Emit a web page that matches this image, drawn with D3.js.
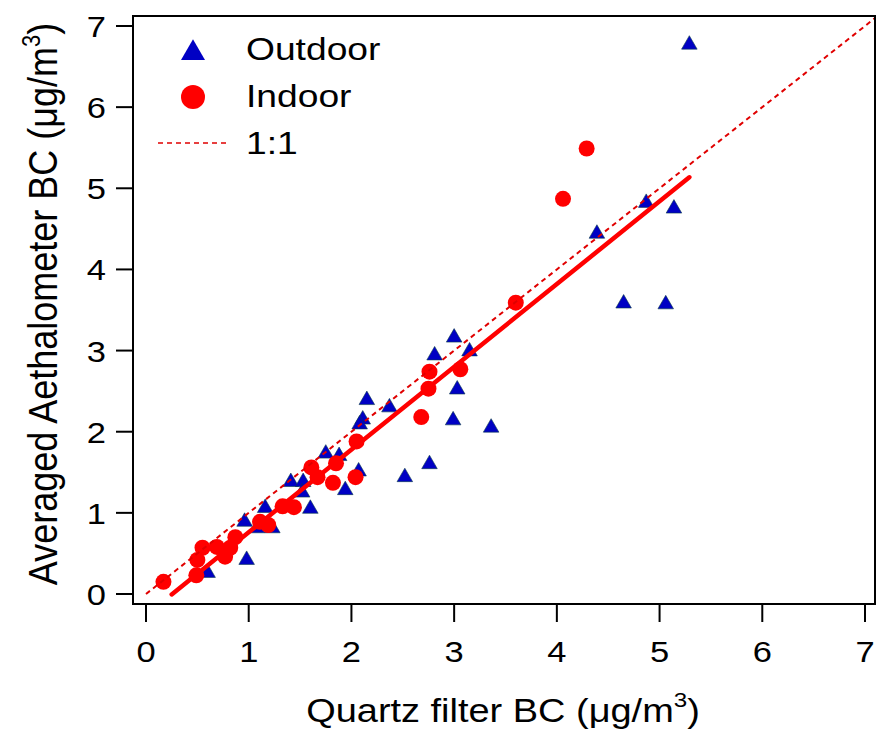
<!DOCTYPE html>
<html>
<head>
<meta charset="utf-8">
<script src="https://cdn.jsdelivr.net/npm/d3@7"></script>
<style>
  body { margin: 0; background: #fff; }
  text { font-family: "Liberation Sans", Arial, sans-serif; fill: #000; }
</style>
</head>
<body>
<div id="chartId"></div>
<script>
// Outdoor (triangles) and indoor (circles)
const outdoorX = [5.29, 4.39, 4.87, 5.14, 4.65, 5.06, 3.00, 2.81, 3.15, 3.03, 2.99, 3.36,
                  2.76, 2.52, 2.37, 2.15, 2.11, 2.08, 2.07, 1.94, 1.75, 1.88, 1.41, 1.53,
                  1.52, 1.60, 1.16, 0.96, 1.08, 1.23, 0.98, 0.60];
const outdoorY = [6.77, 4.44, 4.82, 4.75, 3.58, 3.57, 3.16, 2.94, 2.99, 2.52, 2.14, 2.05,
                  1.60, 1.44, 2.30, 2.39, 2.15, 2.09, 1.51, 1.28, 1.73, 1.70, 1.38, 1.38,
                  1.25, 1.05, 1.06, 0.89, 0.81, 0.81, 0.42, 0.26];
const indoorX = [0.17, 0.49, 0.50, 0.55, 0.69, 0.77, 0.87, 0.82, 1.11, 1.19, 1.33, 1.44,
                 1.61, 1.67, 1.85, 1.82, 2.04, 2.05, 2.68, 2.75, 2.76, 3.06, 3.60, 4.06, 4.29];
const indoorY = [0.15, 0.23, 0.42, 0.57, 0.58, 0.46, 0.70, 0.57, 0.89, 0.85, 1.08, 1.07,
                 1.56, 1.44, 1.61, 1.37, 1.44, 1.88, 2.18, 2.53, 2.74, 2.77, 3.59, 4.87, 5.49];

// fitted line
const fitSlope = 1.02;
const fitIntercept = -0.26;
const fitXRange = [0.25, 5.29];

const xTicks = [0, 1, 2, 3, 4, 5, 6, 7];
const yTicks = [0, 1, 2, 3, 4, 5, 6, 7];
const legendLabels = ["Outdoor", "Indoor", "1:1"];

const W = 876, H = 740;
const frame = { left: 133, right: 875, top: 16, bottom: 604 };
const stretch = 1.15; // text in the picture is a bit wide

const svg = d3.select("div#chartId").append("svg")
  .attr("width", W).attr("height", H);

const x = d3.scaleLinear().domain([0, 7]).range([146, 865]);
const y = d3.scaleLinear().domain([0, 7]).range([594, 26]);

svg.append("clipPath").attr("id", "plotClip")
  .append("rect")
  .attr("x", frame.left).attr("y", frame.top)
  .attr("width", frame.right - frame.left).attr("height", frame.bottom - frame.top);

const plot = svg.append("g").attr("clip-path", "url(#plotClip)");

// points
const tri = d3.symbol().type(d3.symbolTriangle).size(105);
plot.selectAll("path.out")
  .data(outdoorX.map((v, i) => [v, outdoorY[i]]))
  .join("path")
  .attr("class", "out")
  .attr("d", tri)
  .attr("transform", d => `translate(${x(d[0])},${y(d[1])})`)
  .style("fill", "#0000c4")
  .style("stroke", "#0a3a4a")
  .style("stroke-width", 0.6);

plot.selectAll("circle.in")
  .data(indoorX.map((v, i) => [v, indoorY[i]]))
  .join("circle")
  .attr("class", "in")
  .attr("cx", d => x(d[0]))
  .attr("cy", d => y(d[1]))
  .attr("r", 8)
  .style("fill", "#ff0000");

// fit line
plot.append("line")
  .attr("x1", x(fitXRange[0])).attr("y1", y(fitSlope * fitXRange[0] + fitIntercept))
  .attr("x2", x(fitXRange[1])).attr("y2", y(fitSlope * fitXRange[1] + fitIntercept))
  .style("stroke", "#ff0000")
  .style("stroke-width", 4.5)
  .style("stroke-linecap", "round");

// 1:1 line
const oneMax = x.invert(frame.right);
plot.append("line")
  .attr("x1", x(0)).attr("y1", y(0))
  .attr("x2", x(oneMax)).attr("y2", y(oneMax))
  .style("stroke", "#e00000")
  .style("stroke-width", 2)
  .style("stroke-dasharray", "5,4");

// frame
svg.append("rect")
  .attr("x", frame.left).attr("y", frame.top)
  .attr("width", frame.right - frame.left).attr("height", frame.bottom - frame.top)
  .style("fill", "none").style("stroke", "#000").style("stroke-width", 2);

// y axis
const yAxis = svg.append("g");
yAxis.selectAll("line").data(yTicks).join("line")
  .attr("x1", frame.left - 17).attr("x2", frame.left)
  .attr("y1", d => y(d)).attr("y2", d => y(d))
  .style("stroke", "#000").style("stroke-width", 2);
yAxis.selectAll("text").data(yTicks).join("text")
  .attr("transform", d => `translate(106,${y(d) + 11}) scale(${stretch},1)`)
  .attr("text-anchor", "end")
  .style("font-size", "30px")
  .text(d => d);

// x axis
const xAxis = svg.append("g");
xAxis.selectAll("line").data(xTicks).join("line")
  .attr("x1", d => x(d)).attr("x2", d => x(d))
  .attr("y1", frame.bottom + 1).attr("y2", frame.bottom + 18)
  .style("stroke", "#000").style("stroke-width", 2);
xAxis.selectAll("text").data(xTicks).join("text")
  .attr("transform", d => `translate(${x(d)},662) scale(${stretch},1)`)
  .attr("text-anchor", "middle")
  .style("font-size", "30px")
  .text(d => d);

// axis titles
const xt = svg.append("text")
  .attr("transform", `translate(503,722) scale(${stretch},1)`)
  .attr("text-anchor", "middle")
  .style("font-size", "33px");
xt.append("tspan").text("Quartz filter BC (\u03bcg/m");
xt.append("tspan").attr("dy", -15).style("font-size", "21px").text("3");
xt.append("tspan").attr("dy", 15).text(")");

const yt = svg.append("text")
  .attr("transform", `translate(57,304) scale(${stretch},1) rotate(-90)`)
  .attr("text-anchor", "middle")
  .style("font-size", "36px");
yt.append("tspan").text("Averaged Aethalometer BC (\u03bcg/m");
yt.append("tspan").attr("dy", -15).style("font-size", "22px").text("3");
yt.append("tspan").attr("dy", 15).text(")");

// legend
const leg = svg.append("g");
leg.append("path")
  .attr("d", d3.symbol().type(d3.symbolTriangle).size(250))
  .attr("transform", "translate(193,53)")
  .style("fill", "#0000c4");
leg.append("circle")
  .attr("cx", 193).attr("cy", 97).attr("r", 12)
  .style("fill", "#ff0000");
leg.append("line")
  .attr("x1", 158).attr("x2", 230).attr("y1", 143).attr("y2", 143)
  .style("stroke", "#e00000").style("stroke-width", 1.5)
  .style("stroke-dasharray", "5,4");
leg.selectAll("text").data(legendLabels).join("text")
  .attr("transform", (d, i) => `translate(246,${60 + i * 47}) scale(1.2,1)`)
  .style("font-size", "31px")
  .text(d => d);
</script>
</body>
</html>
